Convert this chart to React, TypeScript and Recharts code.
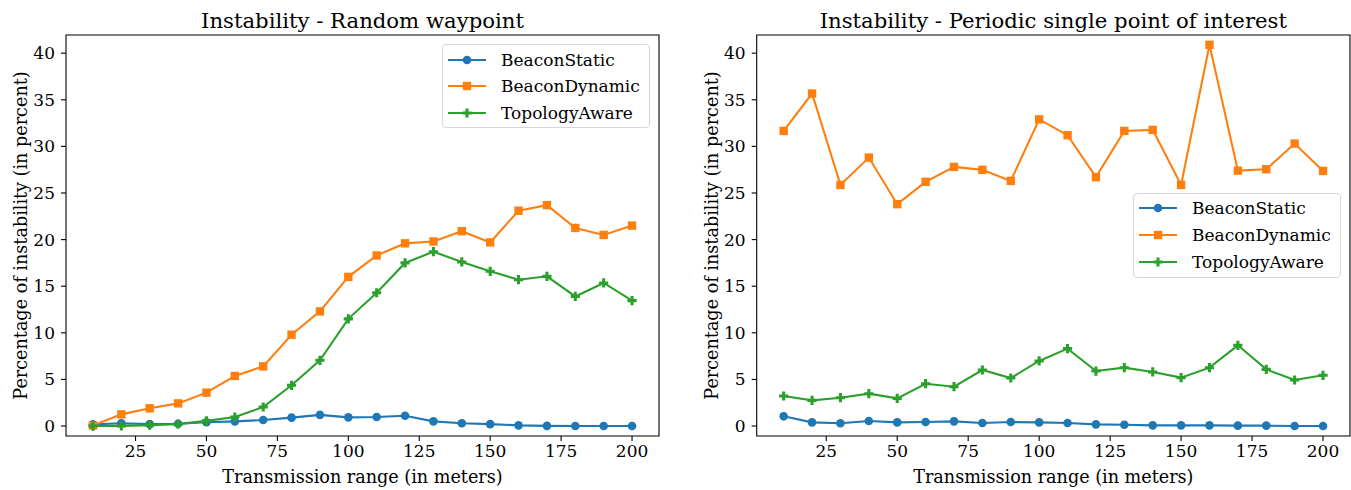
import React from 'react';
import { LineChart, Line, XAxis, YAxis, ReferenceArea, Legend, Label } from 'recharts';

const ranges = [10, 20, 30, 40, 50, 60, 70, 80, 90, 100, 110, 120, 130, 140, 150, 160, 170, 180, 190, 200];

const rwStatic = [0.18, 0.3, 0.2, 0.25, 0.4, 0.5, 0.64, 0.9, 1.2, 0.93, 0.97, 1.1, 0.5, 0.3, 0.2, 0.07, 0.02, 0.0, 0.0, 0.0];
const rwDynamic = [0.05, 1.25, 1.9, 2.43, 3.58, 5.37, 6.4, 9.8, 12.3, 16.0, 18.3, 19.6, 19.8, 20.9, 19.7, 23.1, 23.7, 21.25, 20.5, 21.5];
const rwTopology = [0.0, 0.02, 0.1, 0.2, 0.55, 0.97, 2.04, 4.37, 7.05, 11.5, 14.3, 17.5, 18.7, 17.6, 16.6, 15.7, 16.06, 13.9, 15.35, 13.45];

const psStatic = [1.04, 0.39, 0.29, 0.54, 0.39, 0.43, 0.5, 0.32, 0.43, 0.39, 0.32, 0.18, 0.14, 0.07, 0.07, 0.07, 0.04, 0.04, 0.0, 0.0];
const psDynamic = [31.66, 35.67, 25.87, 28.8, 23.8, 26.2, 27.8, 27.48, 26.3, 32.9, 31.2, 26.7, 31.66, 31.77, 25.87, 40.9, 27.4, 27.55, 30.3, 27.37];
const psTopology = [3.22, 2.75, 3.04, 3.47, 2.97, 4.54, 4.22, 6.01, 5.15, 6.98, 8.3, 5.9, 6.26, 5.8, 5.19, 6.26, 8.66, 6.08, 4.94, 5.44];

const xTicks = [25, 50, 75, 100, 125, 150, 175, 200];
const yTicks = [0, 5, 10, 15, 20, 25, 30, 35, 40];
const seriesNames = ['BeaconStatic', 'BeaconDynamic', 'TopologyAware'];
const seriesColors = ['#1f77b4', '#ff7f0e', '#2ca02c'];
const seriesMarkers = ['circle', 'square', 'plus'];
const titles = ['Instability - Random waypoint', 'Instability - Periodic single point of interest'];
const xLabel = 'Transmission range (in meters)';
const yLabel = 'Percentage of instability (in percent)';

const X_DOMAIN: [number, number] = [0.5, 209.5];
const Y_DOMAIN: [number, number] = [-1.07, 41.95];
const FONT = '"DejaVu Serif", serif';
const TICK_FS = 17;
const LABEL_FS = 17.6;
const LEGEND_FS = 17;
const TITLE_FS = 21.2;

function buildRows(a: number[], b: number[], c: number[]) {
  return ranges.map((x, i) => ({ x, s0: a[i], s1: b[i], s2: c[i] }));
}

const rwRows = buildRows(rwStatic, rwDynamic, rwTopology);
const psRows = buildRows(psStatic, psDynamic, psTopology);

function Marker({ kind, cx, cy, color }: { kind: string; cx: number; cy: number; color: string }) {
  if (cx == null || cy == null) return null;
  if (kind === 'circle') return <circle cx={cx} cy={cy} r={4.3} fill={color} />;
  if (kind === 'square') return <rect x={cx - 4.2} y={cy - 4.2} width={8.4} height={8.4} fill={color} />;
  const a = 4.6;
  const b = 1.55;
  const pts = [
    [-b, -a], [b, -a], [b, -b], [a, -b], [a, b], [b, b], [b, a], [-b, a], [-b, b], [-a, b], [-a, -b], [-b, -b],
  ].map(([px, py]) => `${cx + px},${cy + py}`).join(' ');
  return <polygon points={pts} fill={color} />;
}

type Box = { left: number; top: number; width: number; height: number; firstRow: number; textLeft: number };

function makeLegend(box: Box) {
  return function LegendContent() {
    return (
      <div
        style={{
          position: 'relative',
          boxSizing: 'border-box',
          width: box.width,
          height: box.height,
          border: '1px solid #d6d6d6',
          borderRadius: 4,
          background: 'rgba(255,255,255,0.8)',
          fontFamily: FONT,
          fontSize: LEGEND_FS,
          color: '#000',
        }}
      >
        {seriesNames.map((name, idx) => {
          const cy = box.firstRow + idx * 26.7;
          return (
            <div key={name} style={{ position: 'absolute', left: 0, top: cy - 13, height: 26, width: box.width }}>
              <svg width={44} height={26} style={{ position: 'absolute', left: 4, top: 0 }}>
                <line x1={1} y1={13} x2={39} y2={13} stroke={seriesColors[idx]} strokeWidth={2.1} />
                <Marker kind={seriesMarkers[idx]} cx={20} cy={13} color={seriesColors[idx]} />
              </svg>
              <span style={{ position: 'absolute', left: box.textLeft, top: 0, lineHeight: '26px', whiteSpace: 'nowrap' }}>
                {name}
              </span>
            </div>
          );
        })}
      </div>
    );
  };
}

function Panel({
  rows, title, width, marginLeft, marginRight, legendBox,
}: {
  rows: any[]; title: string; width: number; marginLeft: number; marginRight: number; legendBox: Box;
}) {
  const LegendContent = makeLegend(legendBox);
  return (
    <LineChart
      width={width}
      height={490}
      data={rows}
      margin={{ top: 35, right: marginRight, bottom: 24, left: marginLeft }}
      style={{ fontFamily: FONT }}
    >
      <XAxis
        dataKey="x"
        type="number"
        domain={X_DOMAIN}
        ticks={xTicks}
        allowDataOverflow
        height={30}
        axisLine={false}
        tickLine={{ stroke: '#000', strokeWidth: 1.1 }}
        tickSize={5}
        tickMargin={4}
        tick={{ fill: '#000', fontSize: TICK_FS, fontFamily: FONT }}
      >
        <Label
          content={(p: any) => {
            const vb = p.viewBox;
            return (
              <text x={vb.x + vb.width / 2} y={482.5} textAnchor="middle" fontSize={LABEL_FS} fontFamily={FONT} fill="#000">
                {xLabel}
              </text>
            );
          }}
        />
      </XAxis>
      <YAxis
        type="number"
        domain={Y_DOMAIN}
        ticks={yTicks}
        allowDataOverflow
        width={60}
        axisLine={false}
        tickLine={{ stroke: '#000', strokeWidth: 1.1 }}
        tickSize={5}
        tickMargin={6}
        tick={{ fill: '#000', fontSize: TICK_FS, fontFamily: FONT }}
      >
        <Label
          content={(p: any) => {
            const vb = p.viewBox;
            const cx = vb.x + vb.width - 39;
            const cy = vb.y + vb.height / 2;
            return (
              <text transform={`translate(${cx}, ${cy}) rotate(-90)`} textAnchor="middle" fontSize={LABEL_FS} fontFamily={FONT} fill="#000">
                {yLabel}
              </text>
            );
          }}
        />
      </YAxis>
      <ReferenceArea
        x1={X_DOMAIN[0]}
        x2={X_DOMAIN[1]}
        y1={Y_DOMAIN[0]}
        y2={Y_DOMAIN[1]}
        fill="none"
        fillOpacity={0}
        stroke="#000"
        strokeWidth={1.1}
        ifOverflow="visible"
      >
        <Label
          content={(p: any) => {
            const vb = p.viewBox;
            return (
              <text x={vb.x + vb.width / 2} y={vb.y - 7} textAnchor="middle" fontSize={TITLE_FS} fontFamily={FONT} fill="#000">
                {title}
              </text>
            );
          }}
        />
      </ReferenceArea>
      {seriesNames.map((name, i) => (
        <Line
          key={name}
          dataKey={`s${i}`}
          name={name}
          stroke={seriesColors[i]}
          strokeWidth={2.1}
          isAnimationActive={false}
          dot={(p: any) => (
            <Marker key={`${name}-${p.index}`} kind={seriesMarkers[i]} cx={p.cx} cy={p.cy} color={seriesColors[i]} />
          )}
          activeDot={false}
        />
      ))}
      <Legend
        layout="horizontal"
        verticalAlign="middle"
        align="center"
        content={LegendContent}
        wrapperStyle={{ left: legendBox.left, top: legendBox.top, width: legendBox.width, height: legendBox.height }}
      />
    </LineChart>
  );
}

export default function App() {
  return (
    <div style={{ position: 'absolute', left: 0, top: 0, width: 1351, height: 490, background: '#fff', fontFamily: FONT }}>
      <div style={{ position: 'absolute', left: 0, top: 0 }}>
        <Panel
          rows={rwRows}
          title={titles[0]}
          width={680}
          marginLeft={6}
          marginRight={21}
          legendBox={{ left: 442, top: 44, width: 208, height: 84, firstRow: 14.7, textLeft: 58 }}
        />
      </div>
      <div style={{ position: 'absolute', left: 680, top: 0 }}>
        <Panel
          rows={psRows}
          title={titles[1]}
          width={671}
          marginLeft={16.7}
          marginRight={1}
          legendBox={{ left: 453, top: 193, width: 208, height: 85, firstRow: 14.3, textLeft: 58 }}
        />
      </div>
    </div>
  );
}
